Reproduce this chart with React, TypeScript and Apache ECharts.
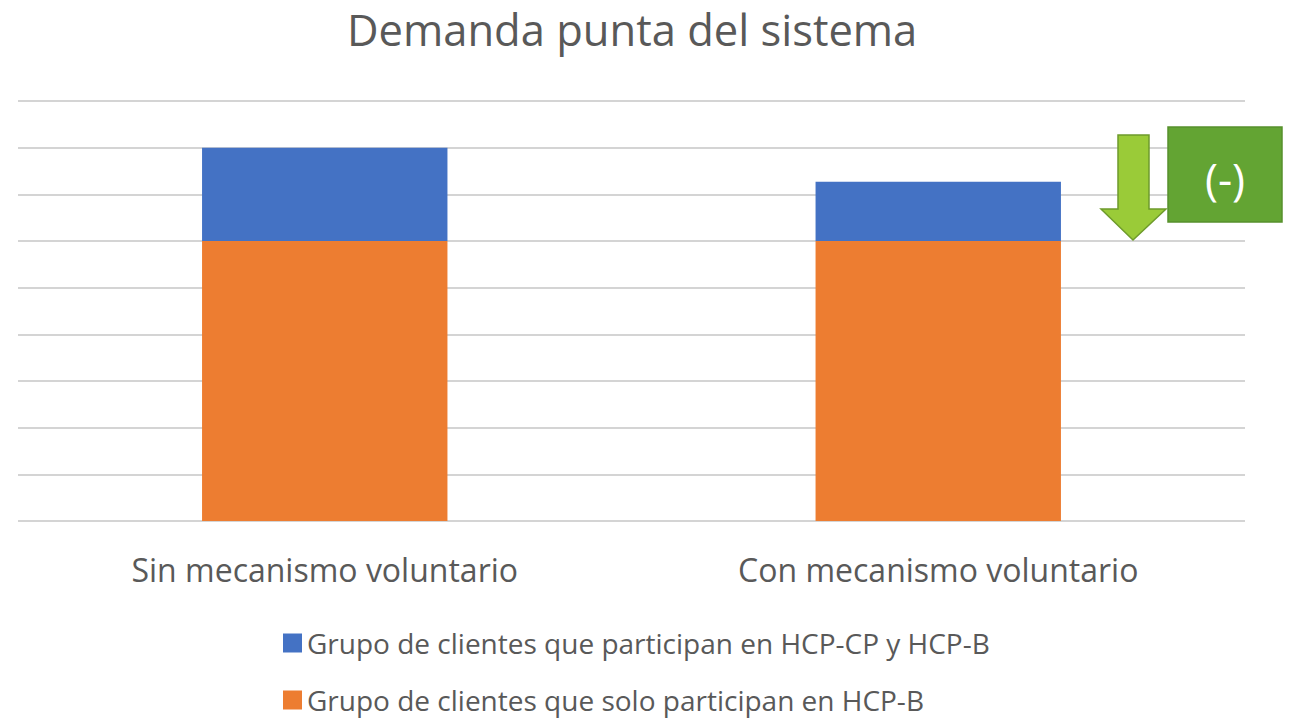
import React, { useEffect, useRef } from "react";
import * as echarts from "echarts";

const categories = ["Sin mecanismo voluntario", "Con mecanismo voluntario"];
const seriesNames = [
  "Grupo de clientes que participan en HCP-CP y HCP-B",
  "Grupo de clientes que solo participan en HCP-B",
];
const soloHcpB = [6, 6];
const hcpCpYB = [2, 1.27];
const titleText = "Demanda punta del sistema";
const badgeText = "(-)";

const FONT = "'Open Sans', 'Noto Sans', sans-serif";

const legendBase = {
  orient: "horizontal",
  left: 278,
  itemWidth: 19,
  itemHeight: 19,
  itemGap: 10,
  icon: "rect",
  textStyle: { fontFamily: FONT, fontSize: 28, color: "#595959", lineHeight: 28 },
};

export default function App() {
  const ref = useRef<HTMLDivElement>(null);
  useEffect(() => {
    if (!ref.current) return;
    const chart = echarts.init(ref.current, null, { renderer: "svg" });
    chart.setOption({
      animation: false,
      backgroundColor: "#ffffff",
      title: {
        text: titleText,
        left: 342,
        top: 2,
        textStyle: { fontFamily: FONT, fontSize: 43.5, fontWeight: "normal", color: "#595959" },
      },
      grid: { left: 18, right: 48, top: 101, bottom: 198 },
      xAxis: {
        type: "category",
        data: categories,
        axisLine: { show: false },
        axisTick: { show: false },
        axisLabel: { fontFamily: FONT, fontSize: 32, color: "#595959", margin: 32 },
      },
      yAxis: {
        type: "value",
        min: 0,
        max: 9,
        interval: 1,
        axisLabel: { show: false },
        axisLine: { show: false },
        axisTick: { show: false },
        splitLine: { lineStyle: { color: "#d4d4d4", width: 2 } },
      },
      legend: [
        { ...legendBase, top: 624, data: [seriesNames[0]] },
        { ...legendBase, top: 681, data: [seriesNames[1]] },
      ],
      series: [
        {
          name: seriesNames[1],
          type: "bar",
          stack: "total",
          data: soloHcpB,
          barWidth: "40%",
          itemStyle: { color: "#ed7d31" },
        },
        {
          name: seriesNames[0],
          type: "bar",
          stack: "total",
          data: hcpCpYB,
          barWidth: "40%",
          itemStyle: { color: "#4472c4" },
        },
      ],
      graphic: [
        {
          type: "polygon",
          shape: {
            points: [
              [1118, 135],
              [1149, 135],
              [1149, 209],
              [1166, 209],
              [1133, 240],
              [1101, 209],
              [1118, 209],
            ],
          },
          style: { fill: "#9acb38", stroke: "#6e9b2b", lineWidth: 1.5 },
          z: 100,
        },
        {
          type: "rect",
          shape: { x: 1168, y: 127, width: 114, height: 95 },
          style: { fill: "#63a433", stroke: "#57902c", lineWidth: 1.5 },
          z: 100,
        },
        {
          type: "text",
          x: 1225,
          y: 178,
          style: {
            text: badgeText,
            fill: "#ffffff",
            font: `44px ${FONT}`,
            align: "center",
            verticalAlign: "middle",
          },
          z: 101,
        },
      ],
    });
    return () => chart.dispose();
  }, []);
  return (
    <div
      ref={ref}
      style={{ position: "fixed", left: 0, top: 0, width: 1293, height: 719, background: "#fff" }}
    />
  );
}
